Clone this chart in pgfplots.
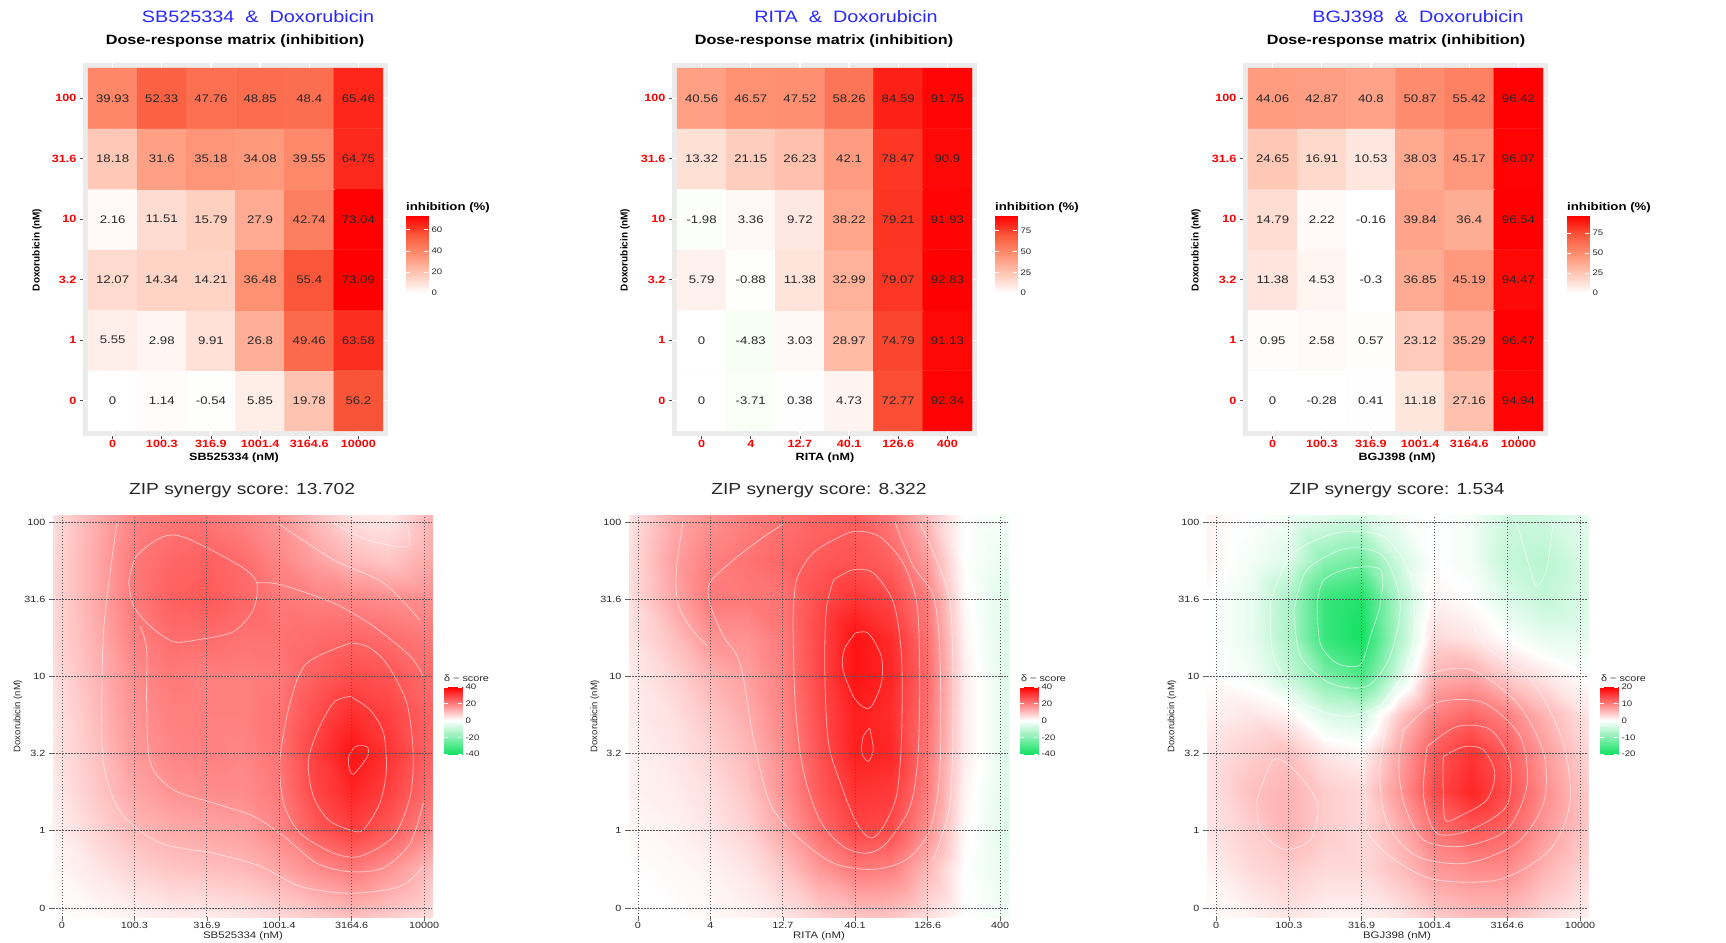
\documentclass[border=0pt]{standalone}
\usepackage{pgfplots}
\pgfplotsset{compat=1.18}
\usepackage{fontspec}
\setmainfont{Liberation Sans}[FakeStretch=1.2]
\newfontfamily\plainfont{Liberation Sans}
\definecolor{titleblue}{RGB}{40,40,255}
\definecolor{panelgrey}{RGB}{235,235,235}
\definecolor{txtgrey}{RGB}{40,40,40}
\pgfplotsset{
 colormap={hm}{rgb255=(0,238,70) rgb255=(125,255,100) rgb255=(178,255,155) rgb255=(218,255,205) rgb255=(255,255,255) rgb255=(255,200,182) rgb255=(255,145,115) rgb255=(250,90,60) rgb255=(255,0,0)},
 colormap={zip}{rgb255=(20,225,100) rgb255=(255,255,255) rgb255=(255,0,0)},
 hmaxis/.style={scale only axis, width=305pt, height=373pt,
   xmin=-0.602, xmax=5.602, ymin=-0.583, ymax=5.583,
   axis background/.style={fill=panelgrey}, axis line style={draw=none},
   xtick={0,...,5}, ytick={0,...,5}, yticklabels={0,1,3.2,10,31.6,100},
   xtick pos=left, ytick pos=left, tick align=outside, major tick length=3pt,
   tick style={black!70, line width=0.7pt},
   ticklabel style={font=\fontsize{10.5}{12}\selectfont\bfseries, text=red},
   xticklabel style={yshift=2pt},
   grid=major, grid style={white, line width=1.2pt}, colormap name=hm,
   every node near coord/.append style={anchor=center, font=\fontsize{11}{12}\selectfont, text=txtgrey}},
 cbaxis/.style={scale only axis, xmin=0, xmax=1, axis line style={draw=none}, xtick=\empty,
   yticklabel pos=right, tick align=inside, major tick length=4pt, tick style={white, line width=0.6pt},
   axis on top, ticklabel style={font=\fontsize{8}{9}\selectfont, text=txtgrey}},
 zipaxis/.style={scale only axis, width=379pt, height=402pt,
   xmin=-0.124, xmax=5.11, ymin=-0.117, ymax=5.09, axis line style={draw=none}, axis on top,
   xtick={0,...,5}, ytick={0,...,5}, yticklabels={0,1,3.2,10,31.6,100},
   xtick pos=left, ytick pos=left, tick align=outside, major tick length=4pt,
   tick style={black!60, line width=0.6pt},
   ticklabel style={font=\fontsize{9}{10}\selectfont, text=txtgrey},
   xticklabel style={yshift=2pt},
   grid=major, grid style={dash pattern=on 1.5pt off 1.5pt, black!65, line width=0.7pt},
   colormap name=zip},
 ctr/.style={white, opacity=0.55, line width=0.8pt, smooth, mark=none},
}
\begin{document}
\begin{tikzpicture}
\path[use as bounding box] (0,0) rectangle (1726pt,-942pt);

% ================= TOP LEFT =================
\begin{axis}[hmaxis, at={(83pt,-436pt)}, anchor=south west,
  xticklabels={0,100.3,316.9,1001.4,3164.6,10000},
  point meta min=-73.09, point meta max=73.09]
\addplot[matrix plot*, mesh/cols=6, point meta=explicit] coordinates {
(0,0)[0] (1,0)[1.14] (2,0)[-0.54] (3,0)[5.85] (4,0)[19.78] (5,0)[56.2]
(0,1)[5.55] (1,1)[2.98] (2,1)[9.91] (3,1)[26.8] (4,1)[49.46] (5,1)[63.58]
(0,2)[12.07] (1,2)[14.34] (2,2)[14.21] (3,2)[36.48] (4,2)[55.4] (5,2)[73.09]
(0,3)[2.16] (1,3)[11.51] (2,3)[15.79] (3,3)[27.9] (4,3)[42.74] (5,3)[73.04]
(0,4)[18.18] (1,4)[31.6] (2,4)[35.18] (3,4)[34.08] (4,4)[39.55] (5,4)[64.75]
(0,5)[39.93] (1,5)[52.33] (2,5)[47.76] (3,5)[48.85] (4,5)[48.4] (5,5)[65.46]};
\addplot[draw=none, mark=none, nodes near coords, point meta=explicit symbolic] coordinates {
(0,0)[0] (1,0)[1.14] (2,0)[-0.54] (3,0)[5.85] (4,0)[19.78] (5,0)[56.2]
(0,1)[5.55] (1,1)[2.98] (2,1)[9.91] (3,1)[26.8] (4,1)[49.46] (5,1)[63.58]
(0,2)[12.07] (1,2)[14.34] (2,2)[14.21] (3,2)[36.48] (4,2)[55.4] (5,2)[73.09]
(0,3)[2.16] (1,3)[11.51] (2,3)[15.79] (3,3)[27.9] (4,3)[42.74] (5,3)[73.04]
(0,4)[18.18] (1,4)[31.6] (2,4)[35.18] (3,4)[34.08] (4,4)[39.55] (5,4)[64.75]
(0,5)[39.93] (1,5)[52.33] (2,5)[47.76] (3,5)[48.85] (4,5)[48.4] (5,5)[65.46]};
\end{axis}
\begin{axis}[cbaxis, at={(406pt,-293pt)}, anchor=south west, width=22pt, height=77pt,
  ymin=0, ymax=73.09, ytick={0,20,40,60}, yticklabels={0,20,40,60}, colormap name=hm,
  point meta min=-73.09, point meta max=73.09]
\addplot[surf, shader=interp, mesh/cols=2, point meta=explicit] coordinates {(0,0)[0] (1,0)[0] (0,73.09)[73.09] (1,73.09)[73.09]};
\end{axis}

% ================= TOP MIDDLE =================
\begin{axis}[hmaxis, at={(672pt,-436pt)}, anchor=south west,
  xticklabels={0,4,12.7,40.1,126.6,400},
  point meta min=-92.83, point meta max=92.83]
\addplot[matrix plot*, mesh/cols=6, point meta=explicit] coordinates {
(0,0)[0] (1,0)[-3.71] (2,0)[0.38] (3,0)[4.73] (4,0)[72.77] (5,0)[92.34]
(0,1)[0] (1,1)[-4.83] (2,1)[3.03] (3,1)[28.97] (4,1)[74.79] (5,1)[91.13]
(0,2)[5.79] (1,2)[-0.88] (2,2)[11.38] (3,2)[32.99] (4,2)[79.07] (5,2)[92.83]
(0,3)[-1.98] (1,3)[3.36] (2,3)[9.72] (3,3)[38.22] (4,3)[79.21] (5,3)[91.93]
(0,4)[13.32] (1,4)[21.15] (2,4)[26.23] (3,4)[42.1] (4,4)[78.47] (5,4)[90.9]
(0,5)[40.56] (1,5)[46.57] (2,5)[47.52] (3,5)[58.26] (4,5)[84.59] (5,5)[91.75]};
\addplot[draw=none, mark=none, nodes near coords, point meta=explicit symbolic] coordinates {
(0,0)[0] (1,0)[-3.71] (2,0)[0.38] (3,0)[4.73] (4,0)[72.77] (5,0)[92.34]
(0,1)[0] (1,1)[-4.83] (2,1)[3.03] (3,1)[28.97] (4,1)[74.79] (5,1)[91.13]
(0,2)[5.79] (1,2)[-0.88] (2,2)[11.38] (3,2)[32.99] (4,2)[79.07] (5,2)[92.83]
(0,3)[-1.98] (1,3)[3.36] (2,3)[9.72] (3,3)[38.22] (4,3)[79.21] (5,3)[91.93]
(0,4)[13.32] (1,4)[21.15] (2,4)[26.23] (3,4)[42.1] (4,4)[78.47] (5,4)[90.9]
(0,5)[40.56] (1,5)[46.57] (2,5)[47.52] (3,5)[58.26] (4,5)[84.59] (5,5)[91.75]};
\end{axis}
\begin{axis}[cbaxis, at={(995pt,-293pt)}, anchor=south west, width=22pt, height=77pt,
  ymin=0, ymax=92.83, ytick={0,25,50,75}, yticklabels={0,25,50,75}, colormap name=hm,
  point meta min=-92.83, point meta max=92.83]
\addplot[surf, shader=interp, mesh/cols=2, point meta=explicit] coordinates {(0,0)[0] (1,0)[0] (0,92.83)[92.83] (1,92.83)[92.83]};
\end{axis}

% ================= TOP RIGHT =================
\begin{axis}[hmaxis, at={(1243pt,-436pt)}, anchor=south west,
  xticklabels={0,100.3,316.9,1001.4,3164.6,10000},
  point meta min=-96.54, point meta max=96.54]
\addplot[matrix plot*, mesh/cols=6, point meta=explicit] coordinates {
(0,0)[0] (1,0)[-0.28] (2,0)[0.41] (3,0)[11.18] (4,0)[27.16] (5,0)[94.94]
(0,1)[0.95] (1,1)[2.58] (2,1)[0.57] (3,1)[23.12] (4,1)[35.29] (5,1)[96.47]
(0,2)[11.38] (1,2)[4.53] (2,2)[-0.3] (3,2)[36.85] (4,2)[45.19] (5,2)[94.47]
(0,3)[14.79] (1,3)[2.22] (2,3)[-0.16] (3,3)[39.84] (4,3)[36.4] (5,3)[96.54]
(0,4)[24.65] (1,4)[16.91] (2,4)[10.53] (3,4)[38.03] (4,4)[45.17] (5,4)[96.07]
(0,5)[44.06] (1,5)[42.87] (2,5)[40.8] (3,5)[50.87] (4,5)[55.42] (5,5)[96.42]};
\addplot[draw=none, mark=none, nodes near coords, point meta=explicit symbolic] coordinates {
(0,0)[0] (1,0)[-0.28] (2,0)[0.41] (3,0)[11.18] (4,0)[27.16] (5,0)[94.94]
(0,1)[0.95] (1,1)[2.58] (2,1)[0.57] (3,1)[23.12] (4,1)[35.29] (5,1)[96.47]
(0,2)[11.38] (1,2)[4.53] (2,2)[-0.3] (3,2)[36.85] (4,2)[45.19] (5,2)[94.47]
(0,3)[14.79] (1,3)[2.22] (2,3)[-0.16] (3,3)[39.84] (4,3)[36.4] (5,3)[96.54]
(0,4)[24.65] (1,4)[16.91] (2,4)[10.53] (3,4)[38.03] (4,4)[45.17] (5,4)[96.07]
(0,5)[44.06] (1,5)[42.87] (2,5)[40.8] (3,5)[50.87] (4,5)[55.42] (5,5)[96.42]};
\end{axis}
\begin{axis}[cbaxis, at={(1567pt,-293pt)}, anchor=south west, width=22pt, height=77pt,
  ymin=0, ymax=96.54, ytick={0,25,50,75}, yticklabels={0,25,50,75}, colormap name=hm,
  point meta min=-96.54, point meta max=96.54]
\addplot[surf, shader=interp, mesh/cols=2, point meta=explicit] coordinates {(0,0)[0] (1,0)[0] (0,96.54)[96.54] (1,96.54)[96.54]};
\end{axis}

% ================= BOTTOM LEFT =================
\begin{axis}[zipaxis, at={(53pt,-917pt)}, anchor=south west,
  xticklabels={0,100.3,316.9,1001.4,3164.6,10000},
  point meta min=-40, point meta max=40]
\addplot[surf, shader=interp, mesh/cols=11, point meta=explicit] coordinates {
(-0.12,-0.12)[0] (0.5,-0.12)[1] (1,-0.12)[2] (1.5,-0.12)[3] (2,-0.12)[3] (2.5,-0.12)[4] (3,-0.12)[6] (3.5,-0.12)[8] (4,-0.12)[10] (4.5,-0.12)[8] (5.12,-0.12)[5]
(-0.12,0.5)[1] (0.5,0.5)[4] (1,0.5)[7] (1.5,0.5)[9] (2,0.5)[10] (2.5,0.5)[11] (3,0.5)[14] (3.5,0.5)[18] (4,0.5)[21] (4.5,0.5)[17] (5.12,0.5)[10]
(-0.12,1)[2] (0.5,1)[7] (1,1)[11] (1.5,1)[13] (2,1)[14] (2.5,1)[15] (3,1)[19] (3.5,1)[26] (4,1)[30] (4.5,1)[26] (5.12,1)[18]
(-0.12,1.5)[3] (0.5,1.5)[9] (1,1.5)[14] (1.5,1.5)[17] (2,1.5)[18] (2.5,1.5)[18] (3,1.5)[21] (3.5,1.5)[29] (4,1.5)[34] (4.5,1.5)[30] (5.12,1.5)[22]
(-0.12,2)[4] (0.5,2)[10] (1,2)[16] (1.5,2)[19] (2,2)[20] (2.5,2)[19] (3,2)[22] (3.5,2)[30] (4,2)[37] (4.5,2)[32] (5.12,2)[24]
(-0.12,2.5)[4] (0.5,2.5)[11] (1,2.5)[17] (1.5,2.5)[20] (2,2.5)[20] (2.5,2.5)[20] (3,2.5)[22] (3.5,2.5)[28] (4,2.5)[33] (4.5,2.5)[30] (5.12,2.5)[24]
(-0.12,3)[5] (0.5,3)[12] (1,3)[18] (1.5,3)[21] (2,3)[20] (2.5,3)[20] (3,3)[21] (3.5,3)[25] (4,3)[28] (4.5,3)[27] (5.12,3)[23]
(-0.12,3.5)[6] (0.5,3.5)[13] (1,3.5)[20] (1.5,3.5)[23] (2,3.5)[23] (2.5,3.5)[22] (3,3.5)[22] (3.5,3.5)[23] (4,3.5)[24] (4.5,3.5)[23] (5.12,3.5)[21]
(-0.12,4)[6] (0.5,4)[14] (1,4)[21] (1.5,4)[25] (2,4)[26] (2.5,4)[24] (3,4)[21] (3.5,4)[20] (4,4)[19] (4.5,4)[18] (5.12,4)[18]
(-0.12,4.5)[6] (0.5,4.5)[14] (1,4.5)[21] (1.5,4.5)[24] (2,4.5)[25] (2.5,4.5)[23] (3,4.5)[19] (3.5,4.5)[15] (4,4.5)[11] (4.5,4.5)[9] (5.12,4.5)[14]
(-0.12,5.12)[5] (0.5,5.12)[13] (1,5.12)[19] (1.5,5.12)[21] (2,5.12)[21] (2.5,5.12)[19] (3,5.12)[16] (3.5,5.12)[10] (4,5.12)[4] (4.5,5.12)[3] (5.12,5.12)[12]};
\addplot[ctr] coordinates {(3.96,1.96) (4.05,2.09) (4.21,2.09) (4.23,1.99) (4.16,1.88) (4.02,1.73) (3.96,1.84) (3.96,1.96)};
\addplot[ctr] coordinates {(3.98,2.74) (3.75,2.66) (3.52,2.27) (3.40,1.88) (3.47,1.45) (3.68,1.14) (3.98,1.01) (4.16,1.01) (4.39,1.36) (4.48,1.79) (4.44,2.27) (4.25,2.57) (3.98,2.74)};
\addplot[ctr] coordinates {(3.98,3.43) (3.38,3.17) (3.15,2.66) (3.01,1.92) (3.06,1.36) (3.29,0.97) (3.75,0.71) (4.12,0.67) (4.58,0.93) (4.81,1.45) (4.85,2.01) (4.76,2.66) (4.48,3.17) (4.21,3.39) (3.98,3.43)};
\addplot[ctr] coordinates {(0.92,4.21) (1.03,4.56) (1.40,4.81) (1.72,4.79) (2.46,4.43) (2.69,4.21) (2.64,3.86) (2.37,3.58) (1.91,3.48) (1.54,3.45) (1.22,3.65) (0.99,3.91) (0.92,4.21)};
\addplot[ctr] coordinates {(1.08,3.65) (1.17,3.35) (1.17,2.66) (1.22,1.88) (1.54,1.53) (2.09,1.36) (2.64,1.19) (3.06,0.93) (3.52,0.58) (3.98,0.47) (4.44,0.52) (4.81,0.84) (4.99,1.36)};
\addplot[ctr] coordinates {(0.76,4.99) (0.67,4.38) (0.57,3.52) (0.55,2.22) (0.62,1.66) (0.85,1.19) (1.36,0.84) (2.09,0.71) (2.74,0.54) (3.29,0.28) (3.98,0.19) (4.67,0.28) (4.99,0.54)};
\addplot[ctr] coordinates {(2.97,4.99) (3.75,4.51) (4.44,4.21) (4.94,3.73)};
\addplot[ctr] coordinates {(2.69,4.21) (3.01,4.19) (3.75,3.95) (4.30,3.65) (4.81,3.26) (4.99,3.0)};
\addplot[ctr] coordinates {(3.75,4.99) (4.21,4.77) (4.76,4.68) (4.78,4.90) (4.76,5.02)};
\end{axis}
\begin{axis}[cbaxis, at={(444pt,-754pt)}, anchor=south west, width=18pt, height=67pt,
  ymin=-40, ymax=40, ytick={-40,-20,0,20,40}, yticklabels={-40,-20,0,20,40}, colormap name=zip,
  point meta min=-40, point meta max=40]
\addplot[surf, shader=interp, mesh/cols=2, point meta=explicit] coordinates {(0,-40)[-40] (1,-40)[-40] (0,40)[40] (1,40)[40]};
\end{axis}

% ================= BOTTOM MIDDLE =================
\begin{axis}[zipaxis, at={(629pt,-917pt)}, anchor=south west,
  xticklabels={0,4,12.7,40.1,126.6,400},
  point meta min=-40, point meta max=40]
\addplot[surf, shader=interp, mesh/cols=11, point meta=explicit] coordinates {
(-0.12,-0.12)[0] (0.5,-0.12)[0] (1,-0.12)[1] (1.5,-0.12)[2] (2,-0.12)[4] (2.5,-0.12)[7] (3,-0.12)[9] (3.5,-0.12)[9] (4,-0.12)[5] (4.5,-0.12)[0] (5.12,-0.12)[-3]
(-0.12,0.5)[0] (0.5,0.5)[1] (1,0.5)[2] (1.5,0.5)[4] (2,0.5)[9] (2.5,0.5)[16] (3,0.5)[21] (3.5,0.5)[20] (4,0.5)[11] (4.5,0.5)[0] (5.12,0.5)[-5]
(-0.12,1)[1] (0.5,1)[2] (1,1)[4] (1.5,1)[7] (2,1)[14] (2.5,1)[23] (3,1)[29] (3.5,1)[28] (4,1)[17] (4.5,1)[1] (5.12,1)[-6]
(-0.12,1.5)[2] (0.5,1.5)[3] (1,1.5)[5] (1.5,1.5)[9] (2,1.5)[17] (2.5,1.5)[26] (3,1.5)[32] (3.5,1.5)[31] (4,1.5)[20] (4.5,1.5)[2] (5.12,1.5)[-6]
(-0.12,2)[2] (0.5,2)[4] (1,2)[7] (1.5,2)[11] (2,2)[18] (2.5,2)[27] (3,2)[35] (3.5,2)[34] (4,2)[21] (4.5,2)[3] (5.12,2)[-6]
(-0.12,2.5)[3] (0.5,2.5)[5] (1,2.5)[9] (1.5,2.5)[13] (2,2.5)[19] (2.5,2.5)[28] (3,2.5)[35] (3.5,2.5)[33] (4,2.5)[22] (4.5,2.5)[3] (5.12,2.5)[-6]
(-0.12,3)[3] (0.5,3)[7] (1,3)[12] (1.5,3)[15] (2,3)[20] (2.5,3)[29] (3,3)[37] (3.5,3)[34] (4,3)[23] (4.5,3)[3] (5.12,3)[-6]
(-0.12,3.5)[4] (0.5,3.5)[10] (1,3.5)[17] (1.5,3.5)[17] (2,3.5)[21] (2.5,3.5)[29] (3,3.5)[37] (3.5,3.5)[33] (4,3.5)[22] (4.5,3.5)[2] (5.12,3.5)[-6]
(-0.12,4)[5] (0.5,4)[14] (1,4)[21] (1.5,4)[21] (2,4)[22] (2.5,4)[28] (3,4)[32] (3.5,4)[29] (4,4)[20] (4.5,4)[1] (5.12,4)[-6]
(-0.12,4.5)[5] (0.5,4.5)[15] (1,4.5)[20] (1.5,4.5)[22] (2,4.5)[24] (2.5,4.5)[26] (3,4.5)[27] (3.5,4.5)[25] (4,4.5)[15] (4.5,4.5)[0] (5.12,4.5)[-4]
(-0.12,5.12)[4] (0.5,5.12)[13] (1,5.12)[17] (1.5,5.12)[20] (2,5.12)[22] (2.5,5.12)[24] (3,5.12)[25] (3.5,5.12)[20] (4,5.12)[10] (4.5,5.12)[0] (5.12,5.12)[-2]};
\addplot[ctr] coordinates {(3.0,3.56) (3.18,3.56) (3.36,3.26) (3.36,2.91) (3.20,2.59) (3.0,2.70) (2.83,3.09) (2.85,3.35) (3.0,3.56)};
\addplot[ctr] coordinates {(3.20,2.33) (3.25,2.05) (3.18,1.90) (3.09,2.01) (3.11,2.22) (3.20,2.33)};
\addplot[ctr] coordinates {(2.70,4.25) (2.97,4.38) (3.25,4.34) (3.53,3.95) (3.64,3.26) (3.64,2.22) (3.57,1.45) (3.36,1.01) (3.20,0.91) (3.02,1.10) (2.83,1.53) (2.63,2.14) (2.58,3.09) (2.60,3.86) (2.70,4.25)};
\addplot[ctr] coordinates {(2.14,3.73) (2.19,4.25) (2.42,4.60) (2.79,4.81) (3.02,4.88) (3.34,4.81) (3.66,4.47) (3.85,3.95) (3.89,3.09) (3.87,2.01) (3.76,1.32) (3.43,0.84) (3.16,0.71) (2.83,0.80) (2.51,1.14) (2.28,1.79) (2.17,2.66) (2.14,3.73)};
\addplot[ctr] coordinates {(3.55,4.99) (3.80,4.43) (4.08,4.04) (4.17,3.26) (4.17,1.79) (4.03,1.01) (3.71,0.63) (3.25,0.50) (2.70,0.58) (2.19,0.93) (1.82,1.36) (1.59,2.22) (1.41,3.17) (1.18,3.52) (0.99,3.95) (0.99,4.21) (1.27,4.47) (1.68,4.77) (2.00,4.97)};
\addplot[ctr] coordinates {(0.62,4.99) (0.53,4.38) (0.55,3.95) (0.71,3.65) (0.95,3.40)};
\addplot[ctr] coordinates {(3.89,4.99) (4.08,4.60) (4.31,3.95) (4.35,2.66) (4.31,1.36) (4.08,0.63)};
\end{axis}
\begin{axis}[cbaxis, at={(1020pt,-754pt)}, anchor=south west, width=18pt, height=67pt,
  ymin=-40, ymax=40, ytick={-40,-20,0,20,40}, yticklabels={-40,-20,0,20,40}, colormap name=zip,
  point meta min=-40, point meta max=40]
\addplot[surf, shader=interp, mesh/cols=2, point meta=explicit] coordinates {(0,-40)[-40] (1,-40)[-40] (0,40)[40] (1,40)[40]};
\end{axis}

% ================= BOTTOM RIGHT =================
\begin{axis}[zipaxis, at={(1207pt,-917pt)}, anchor=south west, width=381pt,
  xticklabels={0,100.3,316.9,1001.4,3164.6,10000},
  point meta min=-20, point meta max=20]
\addplot[surf, shader=interp, mesh/cols=11, point meta=explicit] coordinates {
(-0.12,-0.12)[0] (0.5,-0.12)[1] (1,-0.12)[2] (1.5,-0.12)[1] (2,-0.12)[1] (2.5,-0.12)[2] (3,-0.12)[4] (3.5,-0.12)[5] (4,-0.12)[5] (4.5,-0.12)[3] (5.12,-0.12)[1]
(-0.12,0.5)[1] (0.5,0.5)[3] (1,0.5)[4] (1.5,0.5)[3] (2,0.5)[3] (2.5,0.5)[5] (3,0.5)[8] (3.5,0.5)[9] (4,0.5)[9] (4.5,0.5)[6] (5.12,0.5)[3]
(-0.12,1)[2] (0.5,1)[4] (1,1)[6] (1.5,1)[4] (2,1)[3] (2.5,1)[6] (3,1)[11] (3.5,1)[13] (4,1)[12] (4.5,1)[8] (5.12,1)[4]
(-0.12,1.5)[2] (0.5,1.5)[5] (1,1.5)[6] (1.5,1.5)[4] (2,1.5)[3] (2.5,1.5)[8] (3,1.5)[14] (3.5,1.5)[17] (4,1.5)[14] (4.5,1.5)[9] (5.12,1.5)[4]
(-0.12,2)[2] (0.5,2)[4] (1,2)[5] (1.5,2)[2] (2,2)[1] (2.5,2)[7] (3,2)[13] (3.5,2)[16] (4,2)[13] (4.5,2)[8] (5.12,2)[3]
(-0.12,2.5)[1] (0.5,2.5)[2] (1,2.5)[1] (1.5,2.5)[-3] (2,2.5)[-4] (2.5,2.5)[4] (3,2.5)[10] (3.5,2.5)[12] (4,2.5)[10] (4.5,2.5)[6] (5.12,2.5)[2]
(-0.12,3)[0] (0.5,3)[-1] (1,3)[-5] (1.5,3)[-11] (2,3)[-15] (2.5,3)[-4] (3,3)[6] (3.5,3)[7] (4,3)[4] (4.5,3)[2] (5.12,3)[0]
(-0.12,3.5)[0] (0.5,3.5)[-2] (1,3.5)[-7] (1.5,3.5)[-17] (2,3.5)[-20] (2.5,3.5)[-7] (3,3.5)[3] (3.5,3.5)[2] (4,3.5)[0] (4.5,3.5)[-2] (5.12,3.5)[-2]
(-0.12,4)[0] (0.5,4)[-2] (1,4)[-7] (1.5,4)[-17] (2,4)[-19] (2.5,4)[-7] (3,4)[1] (3.5,4)[0] (4,4)[-3] (4.5,4)[-5] (5.12,4)[-3]
(-0.12,4.5)[1] (0.5,4.5)[-1] (1,4.5)[-3] (1.5,4.5)[-10] (2,4.5)[-12] (2.5,4.5)[-4] (3,4.5)[0] (3.5,4.5)[-1] (4,4.5)[-5] (4.5,4.5)[-6] (5.12,4.5)[-3]
(-0.12,5.12)[1] (0.5,5.12)[0] (1,5.12)[-1] (1.5,5.12)[-2] (2,5.12)[-3] (2.5,5.12)[-1] (3,5.12)[0] (3.5,5.12)[-1] (4,5.12)[-4] (4.5,5.12)[-4] (5.12,5.12)[-2]};
\addplot[ctr] coordinates {(1.39,3.95) (1.48,4.25) (1.84,4.40) (2.26,4.38) (2.26,3.95) (2.12,3.52) (1.98,3.15) (1.66,3.17) (1.43,3.43) (1.39,3.95)};
\addplot[ctr] coordinates {(1.07,3.86) (1.25,4.38) (1.80,4.66) (2.30,4.55) (2.53,3.95) (2.39,3.26) (2.07,2.87) (1.57,2.91) (1.16,3.26) (1.07,3.86)};
\addplot[ctr] coordinates {(0.75,3.95) (1.02,4.56) (1.66,4.86) (2.30,4.81) (2.67,4.30) (2.71,3.43) (2.39,2.74) (1.84,2.48) (1.20,2.66) (0.79,3.26) (0.75,3.95)};
\addplot[ctr] coordinates {(3.12,1.96) (3.40,2.09) (3.67,2.05) (3.83,1.75) (3.72,1.40) (3.35,1.19) (3.15,1.14) (3.12,1.56) (3.12,1.96)};
\addplot[ctr] coordinates {(2.90,2.09) (3.31,2.35) (3.77,2.31) (4.04,1.88) (3.99,1.32) (3.49,1.01) (3.03,0.97) (2.85,1.45) (2.90,2.09)};
\addplot[ctr] coordinates {(2.58,2.31) (3.03,2.66) (3.67,2.66) (4.18,2.22) (4.27,1.58) (3.99,1.01) (3.40,0.80) (2.85,0.88) (2.58,1.36) (2.51,1.88) (2.58,2.31)};
\addplot[ctr] coordinates {(2.39,2.57) (2.85,3.0) (3.49,3.09) (4.13,2.66) (4.50,2.01) (4.50,1.36) (4.13,0.84) (3.44,0.58) (2.76,0.67) (2.35,1.10) (2.25,1.79) (2.39,2.57)};
\addplot[ctr] coordinates {(2.07,1.36) (2.03,2.01) (2.30,2.66) (2.85,3.36) (3.08,3.95) (3.22,4.40) (3.40,4.04) (3.67,3.43) (4.36,2.91) (4.77,2.14) (4.86,1.36) (4.59,0.76) (3.90,0.37) (2.99,0.37) (2.39,0.67) (2.07,1.01) (2.07,1.36)};
\addplot[ctr] coordinates {(0.56,1.40) (0.79,1.92) (1.07,1.79) (1.39,1.36) (1.30,0.89) (0.93,0.76) (0.61,1.01) (0.56,1.40)};
\addplot[ctr] coordinates {(4.13,4.99) (4.36,4.25) (4.41,4.17) (4.54,4.38) (4.63,4.99)};
\end{axis}
\begin{axis}[cbaxis, at={(1600pt,-754pt)}, anchor=south west, width=18pt, height=67pt,
  ymin=-20, ymax=20, ytick={-20,-10,0,10,20}, yticklabels={-20,-10,0,10,20}, colormap name=zip,
  point meta min=-20, point meta max=20]
\addplot[surf, shader=interp, mesh/cols=2, point meta=explicit] coordinates {(0,-20)[-20] (1,-20)[-20] (0,20)[20] (1,20)[20]};
\end{axis}

% ================= TEXT =================
\foreach \cx/\name in {258/SB525334, 846/RITA, 1418/BGJ398}
  \node[font=\fontsize{16.5}{18}\selectfont, text=titleblue] at (\cx pt,-17pt) {\name\ \ \&\ \ Doxorubicin};
\foreach \cx in {235, 824, 1396}
  \node[font=\fontsize{13.5}{15}\selectfont\bfseries] at (\cx pt,-41pt) {Dose-response matrix (inhibition)};
\foreach \cx/\name in {234/SB525334, 825/RITA, 1397/BGJ398}
  \node[font=\fontsize{10.5}{12}\selectfont\bfseries] at (\cx pt,-458pt) {\name\ (nM)};
\foreach \cx in {37, 625, 1196}
  \node[rotate=90, font=\plainfont\fontsize{10}{12}\selectfont\bfseries] at (\cx pt,-250pt) {Doxorubicin (nM)};
\foreach \lx in {406, 995, 1567}
  \node[anchor=west, inner sep=0pt, font=\fontsize{11}{12}\selectfont\bfseries] at (\lx pt,-208pt) {inhibition (\%)};
\foreach \cx/\sc in {242/13.702, 819/8.322, 1397/1.534}
  \node[font=\fontsize{16}{18}\selectfont, text=txtgrey] at (\cx pt,-491pt) {ZIP synergy score: \sc};
\foreach \cx/\name in {243/SB525334, 819/RITA, 1397/BGJ398}
  \node[font=\fontsize{9.5}{11}\selectfont, text=txtgrey] at (\cx pt,-936pt) {\name\ (nM)};
\foreach \cx in {18, 595, 1172}
  \node[rotate=90, font=\plainfont\fontsize{9.5}{11}\selectfont, text=txtgrey] at (\cx pt,-716pt) {Doxorubicin (nM)};
\foreach \lx in {444, 1021, 1601}
  \node[anchor=west, inner sep=0pt, font=\fontsize{9}{10}\selectfont, text=txtgrey] at (\lx pt,-678pt) {δ − score};
\end{tikzpicture}
\end{document}
